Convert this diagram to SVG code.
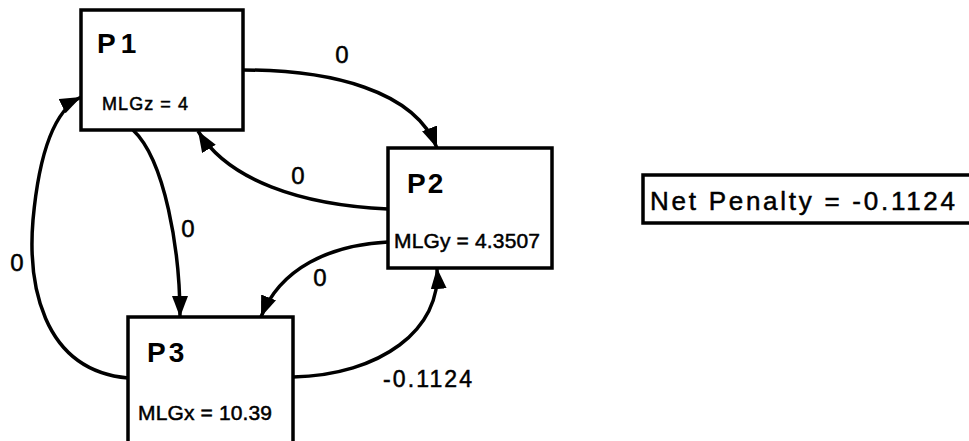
<svg xmlns="http://www.w3.org/2000/svg" width="969" height="441" viewBox="0 0 969 441">
<style>
.box{fill:#fff;stroke:#000;stroke-width:3.5}
.edge{fill:none;stroke:#000;stroke-width:3.5}
.t{font-family:"Liberation Sans",Arial,sans-serif;fill:#000;stroke:#000;stroke-width:0.5}
.title{font-size:28px;font-weight:bold;stroke-width:0}
.val{font-size:21px}
.lbl{font-size:24px;text-anchor:middle}
</style>
<defs>
<marker id="arr" markerUnits="userSpaceOnUse" markerWidth="24" markerHeight="18" refX="21" refY="8" orient="auto">
<path d="M0,0 L21,8 L0,16 Z" fill="#000"/>
</marker>
</defs>
<g id="connectors">
<path class="edge" d="M243,70 C330,70 415,90 437,148" marker-end="url(#arr)"/>
<path class="edge" d="M388,209 C300,205 228,180 198,131" marker-end="url(#arr)"/>
<path class="edge" d="M133,130 C165,160 180,250 180,317" marker-end="url(#arr)"/>
<path class="edge" d="M128,378 C40,370 28,280 33,220 C38,165 50,112 81,97" marker-end="url(#arr)"/>
<path class="edge" d="M388,242 C330,245 280,268 261,317" marker-end="url(#arr)"/>
<path class="edge" d="M293,377 C380,375 442,330 437,268" marker-end="url(#arr)"/>
<text class="t lbl" x="342" y="63">0</text>
<text class="t lbl" x="298" y="184">0</text>
<text class="t lbl" x="188" y="237">0</text>
<text class="t lbl" x="17" y="271">0</text>
<text class="t lbl" x="320" y="286">0</text>
<text class="t" font-size="23" x="383" y="387" textLength="89" lengthAdjust="spacing">-0.1124</text>
</g>
<g id="P1">
<rect class="box" x="81" y="10" width="162" height="120"/>
<text class="t title" x="97" y="53" letter-spacing="5">P1</text>
<text class="t" font-size="18" x="102" y="110" textLength="86" lengthAdjust="spacing">MLGz = 4</text>
</g>
<g id="P2">
<rect class="box" x="388" y="148" width="164" height="120"/>
<text class="t title" x="407" y="193" letter-spacing="2">P2</text>
<text class="t val" x="394" y="248" textLength="146" lengthAdjust="spacing">MLGy = 4.3507</text>
</g>
<g id="P3">
<rect class="box" x="128" y="317" width="165" height="130"/>
<text class="t title" x="147" y="362" letter-spacing="3">P3</text>
<text class="t val" x="138" y="420" textLength="134" lengthAdjust="spacing">MLGx = 10.39</text>
</g>
<g id="netpenalty">
<rect class="box" x="643" y="175" width="340" height="48"/>
<text class="t" font-size="26" x="650" y="210" textLength="305" lengthAdjust="spacing">Net Penalty = -0.1124</text>
</g>
</svg>
